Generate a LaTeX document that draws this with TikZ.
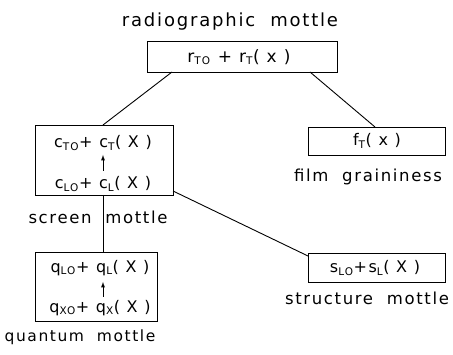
\documentclass[tikz,border=0pt]{standalone}
\usepackage{fontspec}
\setmainfont{DejaVu Sans}[LetterSpace=10]
\begin{document}
\begin{tikzpicture}[x=1pt,y=-1pt,
  box/.style={draw,line width=0.9pt},
  lbl/.style={font=\fontsize{16.5}{18}\selectfont},
  eq/.style={font=\fontsize{16}{18}\selectfont},
  conn/.style={line width=0.9pt},
  up/.style={line width=0.9pt,-latex}]
\newcommand{\lo}[1]{\textsubscript{\fontsize{10.5}{12}\selectfont #1}}
\useasboundingbox (0,0) rectangle (453,355);
% boxes
\draw[box] (147,41) rectangle (337,72);
\draw[box] (35,125) rectangle (173,195);
\draw[box] (35,252) rectangle (157,321);
\draw[box] (308,127) rectangle (445,155);
\draw[box] (308,253) rectangle (445,282);
\coordinate (topL) at (172,72);
\coordinate (topR) at (310,72);
\coordinate (scrT) at (103,125);
\coordinate (scrB) at (103,195);
\coordinate (scrR) at (173,191);
\coordinate (filT) at (375,127);
\coordinate (quaT) at (103,252);
\coordinate (strL) at (308,256);
% captions
\node[lbl,font=\fontsize{18}{20}\selectfont] (cap1) at (230,22) {radiographic\ \ mottle};
\node[lbl] (cap2) at (98,217) {screen\ \ mottle};
\node[lbl,font=\fontsize{15.5}{17}\selectfont] (cap3) at (80,337) {quantum\ \ mottle};
\node[lbl] (cap4) at (368,177) {film\ \ graininess};
\node[lbl] (cap5) at (367,298) {structure\ \ mottle};
% formulas
\node[eq,font=\fontsize{17}{19}\selectfont] (r) at (239,57) {r\lo{TO} + r\lo{T}( x )};
\node[eq] (c1) at (103,143) {c\lo{TO}+ c\lo{T}( X )};
\node[eq] (c2) at (103,184) {c\lo{LO}+ c\lo{L}( X )};
\node[eq] (q1) at (100,268) {q\lo{LO}+ q\lo{L}( X )};
\node[eq] (q2) at (100,308) {q\lo{XO}+ q\lo{X}( X )};
\node[eq] (f) at (377,141) {f\lo{T}( x )};
\node[eq] (s) at (375,268) {s\lo{LO}+s\lo{L}( X )};
% connectors
\draw[conn] (topL) -- (scrT);
\draw[conn] (topR) -- (filT);
\draw[conn] (scrB) -- (quaT);
\draw[conn] (scrR) -- (strL);
\coordinate (a1) at (103,171);
\coordinate (a2) at (103,155);
\coordinate (b1) at (103,297);
\coordinate (b2) at (103,282);
\draw[up] (a1) -- (a2);
\draw[up] (b1) -- (b2);
\end{tikzpicture}
\end{document}
